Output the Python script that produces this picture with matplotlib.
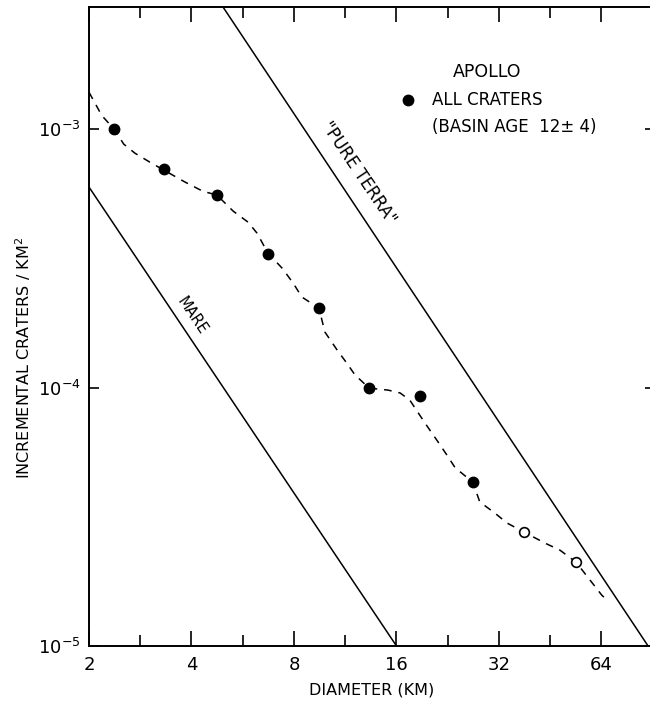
import matplotlib
matplotlib.use('Agg')
import matplotlib.pyplot as plt
from matplotlib.ticker import FixedLocator, FixedFormatter, NullLocator, NullFormatter

# Apollo crater counts
diam_filled = [2.37, 3.32, 4.75, 6.71, 9.47, 13.3, 18.8, 26.8]
dens_filled = [1.0e-3, 7.0e-4, 5.55e-4, 3.3e-4, 2.04e-4, 1.0e-4, 9.3e-5, 4.33e-5]
diam_open = [37.9, 54.0]
dens_open = [2.77e-5, 2.12e-5]

# hand drawn dashed curve through the points
curve_d = [2.00, 2.18, 2.37, 2.53, 2.73, 3.02, 3.32, 3.83, 4.32, 4.75, 5.30, 5.86,
           6.23, 6.71, 7.38, 7.95, 8.44, 9.47, 9.86, 10.7, 11.45, 12.08, 13.3, 15.1,
           16.4, 17.5, 19.4, 21.0, 22.5, 23.8, 26.8, 28.1, 31.1, 33.8, 37.9, 43.7,
           48.3, 53.9, 59.2, 64.2, 66.4]
curve_n = [1.39e-3, 1.13e-3, 1.0e-3, 8.75e-4, 8.07e-4, 7.45e-4, 6.94e-4, 6.24e-4,
           5.75e-4, 5.56e-4, 4.82e-4, 4.37e-4, 3.96e-4, 3.31e-4, 2.90e-4, 2.54e-4,
           2.24e-4, 2.03e-4, 1.64e-4, 1.40e-4, 1.24e-4, 1.12e-4, 9.95e-5, 9.78e-5,
           9.53e-5, 8.95e-5, 7.29e-5, 6.27e-5, 5.48e-5, 4.89e-5, 4.31e-5, 3.61e-5,
           3.27e-5, 2.99e-5, 2.76e-5, 2.50e-5, 2.35e-5, 2.11e-5, 1.80e-5, 1.57e-5,
           1.51e-5]

# reference lines
mare_d = [2.0, 16.0]
mare_n = [5.97e-4, 1.0e-5]
terra_d = [4.95, 87.7]
terra_n = [2.97e-3, 1.0e-5]

xticks = [2, 4, 8, 16, 32, 64]
xticklabels = ['2', '4', '8', '16', '32', '64']
xminor = [2.83, 5.66, 11.3, 22.6, 45.3]
yticks = [1e-5, 1e-4, 1e-3]
yticklabels = [r'$10^{-5}$', r'$10^{-4}$', r'$10^{-3}$']

fig = plt.figure(figsize=(6.5, 7.06), dpi=100)
ax = fig.add_axes([89/650, 60/706, 566/650, 639/706])
ax.set_xscale('log', base=2)
ax.set_yscale('log')
ax.set_xlim(2, 91.9)
ax.set_ylim(1e-5, 2.97e-3)

ax.plot(mare_d, mare_n, color='black', lw=1.1)
ax.plot(terra_d, terra_n, color='black', lw=1.1)
ax.plot(curve_d, curve_n, color='black', lw=1.1, linestyle=(0, (5, 4.5)))
ax.plot(diam_filled, dens_filled, 'o', color='black', ms=7.5)
ax.plot(diam_open, dens_open, 'o', mfc='white', mec='black', mew=1.2, ms=7)

ax.text(4.01, 1.89e-4, 'MARE', rotation=-56, ha='center', va='center', fontsize=10.5)
ax.text(12.4, 6.75e-4, '"PURE TERRA"', rotation=-56, ha='center', va='center', fontsize=12)

# key
ax.text(0.703, 0.898, 'APOLLO', transform=ax.transAxes, ha='center', va='center', fontsize=12.5)
ax.plot([0.5636], [0.854], 'o', color='black', ms=7.5, transform=ax.transAxes)
ax.text(0.606, 0.854, 'ALL CRATERS', transform=ax.transAxes, ha='left', va='center', fontsize=12)
ax.text(0.606, 0.812, '(BASIN AGE  12\u00b1 4)', transform=ax.transAxes, ha='left', va='center', fontsize=12)

ax.xaxis.set_major_locator(FixedLocator(xticks))
ax.xaxis.set_major_formatter(FixedFormatter(xticklabels))
ax.xaxis.set_minor_locator(FixedLocator(xminor))
ax.xaxis.set_minor_formatter(NullFormatter())
ax.yaxis.set_major_locator(FixedLocator(yticks))
ax.yaxis.set_major_formatter(FixedFormatter(yticklabels))
ax.yaxis.set_minor_locator(NullLocator())

ax.tick_params(axis='x', which='major', direction='in', top=True, length=11, width=1.2, labelsize=13, pad=7)
ax.tick_params(axis='x', which='minor', direction='in', top=True, length=8, width=1.2)
ax.tick_params(axis='y', which='major', direction='in', right=True, length=7, width=1.2, labelsize=13, pad=6)
for s in ax.spines.values():
    s.set_linewidth(1.4)

ax.set_xlabel('DIAMETER (KM)', fontsize=11.5, labelpad=6)
fig.text(23/650, 1 - 358/706, 'INCREMENTAL CRATERS / KM$^2$', rotation=90, ha='center', va='center', fontsize=11.5)

fig.savefig('out.png', dpi=100)
